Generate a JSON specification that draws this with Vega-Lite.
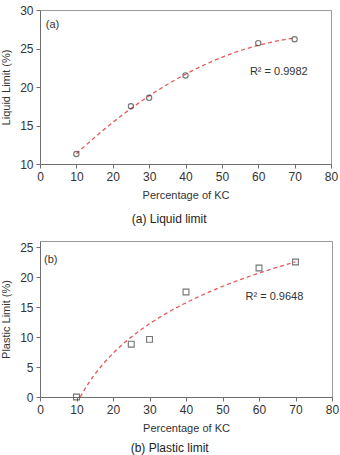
{
  "$schema": "https://vega.github.io/schema/vega-lite/v6.json",
  "padding": {"left": 0, "top": 3, "right": 3, "bottom": 0},
  "background": "white",
  "spacing": 14,
  "config": {
    "font": "Liberation Sans",
    "view": {"stroke": "#9a9a9a", "strokeWidth": 1},
    "axis": {
      "grid": false,
      "domainColor": "#6e6e6e",
      "tickColor": "#6e6e6e",
      "tickSize": 4,
      "tickCount": 20,
      "labelFont": "Liberation Sans",
      "labelFontSize": 12,
      "labelColor": "#333333",
      "labelOverlap": false,
      "labelFlush": false,
      "titleFont": "Liberation Sans",
      "titleFontSize": 11,
      "titleFontWeight": "normal",
      "titleColor": "#333333",
      "labelPadding": 3
    },
    "title": {"font": "Liberation Sans", "fontSize": 12, "fontWeight": "normal", "color": "#222222"}
  },
  "vconcat": [
    {
      "width": 291,
      "height": 154,
      "title": {"text": "(a)  Liquid limit", "orient": "bottom", "frame": "bounds", "anchor": "middle", "offset": 14},
      "data": {"values": [
        {"pct": 10, "ll": 11.3},
        {"pct": 25, "ll": 17.5},
        {"pct": 30, "ll": 18.6},
        {"pct": 40, "ll": 21.5},
        {"pct": 60, "ll": 25.7},
        {"pct": 70, "ll": 26.2}
      ]},
      "layer": [
        {
          "transform": [{"regression": "ll", "on": "pct", "method": "poly", "order": 2, "extent": [10, 70]}],
          "mark": {"type": "line", "color": "#e8575a", "strokeWidth": 1.3, "strokeDash": [4, 3]},
          "encoding": {
            "x": {"field": "pct", "type": "quantitative", "scale": {"domain": [0, 80]}, "axis": {"values": [0, 10, 20, 30, 40, 50, 60, 70, 80], "tickCount": 20, "title": "Percentage of KC", "titlePadding": 7}},
            "y": {"field": "ll", "type": "quantitative", "scale": {"domain": [10, 30]}, "axis": {"values": [10, 15, 20, 25, 30], "tickCount": 20, "title": "Liquid Limit (%)", "titlePadding": 8}}
          }
        },
        {
          "mark": {"type": "point", "shape": "circle", "filled": false, "color": "#3a3a3a", "size": 28, "strokeWidth": 1.1},
          "encoding": {
            "x": {"field": "pct", "type": "quantitative"},
            "y": {"field": "ll", "type": "quantitative"}
          }
        },
        {
          "data": {"values": [{"px": 57.7, "py": 22, "txt": "R² = 0.9982"}, {"px": 1.6, "py": 28.1, "txt": "(a)"}]},
          "mark": {"type": "text", "align": "left", "baseline": "middle", "fontSize": 11, "color": "#333333"},
          "encoding": {
            "x": {"field": "px", "type": "quantitative"},
            "y": {"field": "py", "type": "quantitative"},
            "text": {"field": "txt"}
          }
        }
      ]
    },
    {
      "width": 292,
      "height": 156,
      "title": {"text": "(b)  Plastic limit", "orient": "bottom", "frame": "bounds", "anchor": "middle", "offset": 10},
      "data": {"values": [
        {"pct": 10, "pl": 0},
        {"pct": 25, "pl": 8.8},
        {"pct": 30, "pl": 9.6},
        {"pct": 40, "pl": 17.5},
        {"pct": 60, "pl": 21.5},
        {"pct": 70, "pl": 22.5}
      ]},
      "layer": [
        {
          "transform": [{"regression": "pl", "on": "pct", "method": "log", "extent": [11, 70]}],
          "mark": {"type": "line", "color": "#e8575a", "strokeWidth": 1.3, "strokeDash": [4, 3], "clip": true},
          "encoding": {
            "x": {"field": "pct", "type": "quantitative", "scale": {"domain": [0, 80]}, "axis": {"values": [0, 10, 20, 30, 40, 50, 60, 70, 80], "tickCount": 20, "title": "Percentage of KC", "titlePadding": 7}},
            "y": {"field": "pl", "type": "quantitative", "scale": {"domain": [0, 25]}, "axis": {"values": [0, 5, 10, 15, 20, 25], "tickCount": 20, "title": "Plastic Limit (%)", "titlePadding": 8}}
          }
        },
        {
          "mark": {"type": "point", "shape": "square", "filled": false, "color": "#3a3a3a", "size": 34, "strokeWidth": 1.1},
          "encoding": {
            "x": {"field": "pct", "type": "quantitative"},
            "y": {"field": "pl", "type": "quantitative"}
          }
        },
        {
          "data": {"values": [{"px": 56.3, "py": 16.7, "txt": "R² = 0.9648"}, {"px": 1.1, "py": 22.9, "txt": "(b)"}]},
          "mark": {"type": "text", "align": "left", "baseline": "middle", "fontSize": 11, "color": "#333333"},
          "encoding": {
            "x": {"field": "px", "type": "quantitative"},
            "y": {"field": "py", "type": "quantitative"},
            "text": {"field": "txt"}
          }
        }
      ]
    }
  ]
}
